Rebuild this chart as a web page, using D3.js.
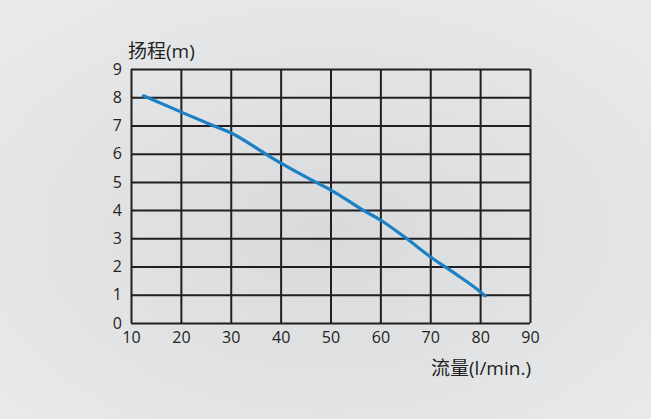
<!DOCTYPE html>
<html lang="zh">
<head>
    <meta charset="UTF-8">
    <title>扬程 流量 曲线</title>
    <style>
        html, body { margin: 0; padding: 0; }
        svg { display: block; }
        text { font-family: "Open Sans", "Noto Sans CJK SC", sans-serif; fill: #231f20; }
    </style>
</head>
<body>
    <div class="graph-container"></div>

    <script src="https://d3js.org/d3.v7.min.js"></script>
    <script>
        var canvasWidth = 651;
        var canvasHeight = 419;

        var margin = { top: 69, left: 131, right: 121, bottom: 96 };
        var graphWidth = canvasWidth - margin.left - margin.right;
        var graphHeight = canvasHeight - margin.top - margin.bottom;

        // flow (l/min) and head (m)
        var flowValues = [12.5, 20, 26.4, 30, 36.9, 40, 46.9, 50, 56.5, 60, 65.2, 70, 75, 80, 81];
        var headValues = [8.05, 7.48, 7.0, 6.74, 6.0, 5.67, 5.0, 4.72, 4.0, 3.65, 3.0, 2.35, 1.75, 1.11, 0.96];

        var xTicks = [10, 20, 30, 40, 50, 60, 70, 80, 90];
        var yTicks = [0, 1, 2, 3, 4, 5, 6, 7, 8, 9];

        var yTitle = "扬程(m)";
        var xTitle = "流量(l/min.)";

        var x = d3.scaleLinear().domain([10, 90]).range([0, graphWidth]);
        var y = d3.scaleLinear().domain([0, 9]).range([graphHeight, 0]);

        var svg = d3.select(".graph-container")
            .append("svg")
            .attr("width", canvasWidth)
            .attr("height", canvasHeight);

        // soft grey background, a little darker in the middle
        var grad = svg.append("defs").append("radialGradient")
            .attr("id", "bg")
            .attr("cx", "50%").attr("cy", "55%").attr("r", "70%");
        grad.append("stop").attr("offset", "0%").attr("stop-color", "#d9dadc");
        grad.append("stop").attr("offset", "100%").attr("stop-color", "#e9eaec");

        svg.append("rect")
            .attr("width", canvasWidth)
            .attr("height", canvasHeight)
            .attr("fill", "url(#bg)");

        var graph = svg.append("g")
            .attr("transform", "translate(" + margin.left + "," + margin.top + ")");

        // grid lines (vertical)
        graph.append("g")
            .attr("class", "grid-x")
            .attr("transform", "translate(0," + graphHeight + ")")
            .call(d3.axisBottom(x).tickValues(xTicks).tickSize(-graphHeight).tickFormat(""))
            .call(function(g) { g.select(".domain").remove(); })
            .selectAll("line")
            .attr("stroke", "#231f20")
            .attr("stroke-width", 2);

        // grid lines (horizontal)
        graph.append("g")
            .attr("class", "grid-y")
            .call(d3.axisLeft(y).tickValues(yTicks).tickSize(-graphWidth).tickFormat(""))
            .call(function(g) { g.select(".domain").remove(); })
            .selectAll("line")
            .attr("stroke", "#231f20")
            .attr("stroke-width", 2);

        // tick labels
        var xAxis = graph.append("g")
            .attr("transform", "translate(0," + graphHeight + ")")
            .call(d3.axisBottom(x).tickValues(xTicks).tickSize(0).tickPadding(9));
        xAxis.select(".domain").remove();
        xAxis.selectAll("text")
            .attr("font-size", 16)
            .attr("font-family", "'Open Sans', sans-serif")
            .attr("fill", "#231f20");

        var yAxis = graph.append("g")
            .call(d3.axisLeft(y).tickValues(yTicks).tickSize(0).tickPadding(9));
        yAxis.select(".domain").remove();
        yAxis.selectAll("text")
            .attr("font-size", 16)
            .attr("font-family", "'Open Sans', sans-serif")
            .attr("fill", "#231f20");

        // pump curve
        var points = flowValues.map(function(d, i) { return [d, headValues[i]]; });
        var line = d3.line()
            .x(function(d) { return x(d[0]); })
            .y(function(d) { return y(d[1]); })
            .curve(d3.curveMonotoneX);

        graph.append("path")
            .datum(points)
            .attr("fill", "none")
            .attr("stroke", "#1b80c6")
            .attr("stroke-width", 3.2)
            .attr("stroke-linecap", "round")
            .attr("d", line);

        // axis titles
        svg.append("text")
            .attr("x", 128)
            .attr("y", 58)
            .attr("font-size", 19)
            .text(yTitle);

        svg.append("text")
            .attr("x", 531)
            .attr("y", 375)
            .attr("text-anchor", "end")
            .attr("font-size", 19)
            .text(xTitle);
    </script>
</body>
</html>
